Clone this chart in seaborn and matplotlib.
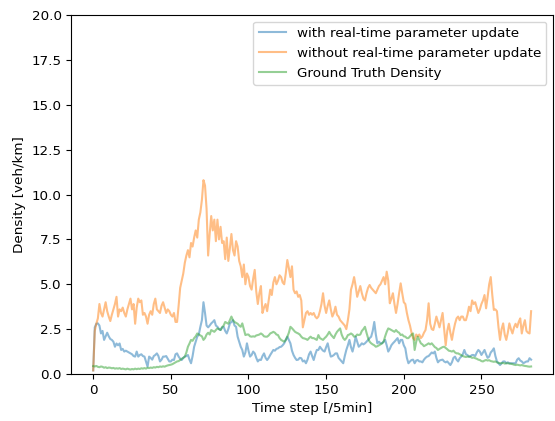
import numpy as np
import pandas as pd
import seaborn as sns
import matplotlib
matplotlib.use("Agg")
import matplotlib.pyplot as plt

plt.rcParams["font.size"] = 9.7

# density, one value per 5-min step (t = 0..282)
without_update = [
    0.2, 2.4, 2.8, 3.1, 3.9, 3.4, 3.2, 3.6, 4.0, 3.5,
    3.2, 2.95, 3.3, 3.6, 3.9, 4.3, 3.2, 3.6, 3.5, 3.7,
    3.4, 3.2, 3.6, 3.9, 4.2, 3.6, 3.9, 2.8, 3.7, 4.2,
    4.0, 4.1, 3.3, 3.4, 3.2, 2.8, 3.3, 3.5, 3.3, 3.9,
    4.2, 3.6, 3.5, 3.4, 3.8, 4.0, 3.7, 3.4, 3.6, 3.5,
    3.3, 3.2, 3.4, 2.9, 2.9, 3.8, 4.8, 5.2, 5.6, 6.2,
    6.6, 6.9, 6.5, 7.3, 7.1, 7.6, 8.0, 7.6, 8.6, 9.0,
    9.7, 10.8, 10.5, 9.2, 6.6, 7.8, 8.8, 8.0, 8.6, 7.4,
    8.6, 7.5, 8.2, 7.3, 7.4, 6.4, 7.6, 6.3, 7.0, 7.8,
    6.9, 6.6, 7.4, 7.1, 6.3, 6.0, 5.4, 6.1, 5.0, 5.6,
    5.4, 4.9, 4.7, 5.3, 5.8, 4.6, 3.9, 4.5, 4.9, 3.4,
    3.7, 3.9, 3.5, 4.1, 4.7, 4.4, 5.1, 5.4, 5.0, 5.2,
    5.5, 5.4, 5.1, 5.0, 5.6, 6.35, 5.9, 5.4, 6.0, 4.7,
    4.5, 4.6, 4.3, 4.4, 4.1, 2.6, 3.0, 3.4, 3.5, 3.3,
    3.4, 3.3, 3.4, 3.2, 3.1, 3.2, 3.5, 3.9, 4.5, 3.8,
    3.4, 3.8, 4.1, 3.6, 3.2, 3.4, 3.75, 3.3, 3.2, 3.0,
    2.9, 2.8, 2.7, 2.5, 3.0, 3.6, 4.7, 5.0, 5.4, 4.9,
    4.3, 4.6, 4.9, 4.5, 4.2, 4.1, 4.5, 4.8, 4.96, 4.8,
    4.7, 4.6, 4.5, 4.7, 4.9, 5.0, 5.2, 5.4, 5.0, 5.7,
    5.2, 3.94, 4.2, 4.5, 3.9, 3.4, 3.9, 4.5, 5.05, 4.5,
    4.0, 3.9, 3.4, 3.0, 2.7, 2.3, 2.0, 1.9, 2.2, 2.1,
    2.2, 2.0, 2.1, 2.3, 2.45, 3.0, 3.94, 2.8, 2.5, 2.45,
    2.8, 3.2, 2.9, 2.6, 3.0, 3.4, 2.5, 1.6, 2.4, 2.8,
    2.3, 1.9, 2.4, 2.8, 3.1, 3.2, 3.0, 3.2, 3.2, 3.0,
    3.0, 3.3, 3.75, 3.5, 4.1, 3.9, 4.0, 3.7, 3.4, 3.6,
    3.9, 4.1, 4.4, 3.66, 4.3, 5.0, 5.4, 4.4, 3.57, 3.6,
    3.5, 2.6, 1.9, 2.5, 2.82, 2.2, 1.9, 2.3, 2.82, 2.5,
    2.26, 2.6, 2.8, 2.6, 2.9, 3.1, 2.26, 2.7, 3.0, 2.4,
    2.3, 2.26, 3.5,
]

with_update = [
    0.2, 2.6, 2.8, 2.82, 2.7, 2.26, 2.4, 1.9, 2.1, 2.3,
    2.1, 1.95, 1.9, 1.8, 1.52, 1.7, 1.6, 1.7, 1.34, 1.4,
    1.25, 1.3, 1.25, 1.2, 1.15, 1.1, 1.0, 0.97, 1.25, 0.97,
    1.06, 1.1, 1.0, 0.97, 0.7, 0.41, 0.97, 0.9, 0.8, 1.0,
    1.06, 1.15, 1.0, 0.7, 0.8, 0.97, 0.97, 1.0, 0.85, 0.7,
    0.7, 0.8, 0.78, 1.1, 1.15, 0.97, 0.85, 0.78, 0.9, 0.97,
    1.0, 1.06, 0.8, 0.6, 1.0, 1.52, 1.8, 2.08, 2.2, 2.63,
    3.0, 4.0, 3.4, 2.7, 2.6, 2.7, 2.82, 2.9, 3.0, 2.7,
    2.63, 2.5, 2.45, 2.6, 2.63, 2.4, 2.26, 2.5, 2.82, 2.9,
    3.0, 2.7, 2.63, 2.08, 1.8, 1.52, 1.34, 0.97, 1.2, 1.71,
    1.3, 0.97, 1.06, 1.25, 1.15, 0.9, 0.7, 0.8, 0.78, 1.0,
    1.15, 0.9, 0.78, 0.9, 1.06, 1.2, 1.34, 1.3, 1.4, 1.43,
    1.5, 1.52, 1.6, 1.71, 1.9, 2.08, 1.9, 1.71, 1.3, 1.06,
    0.9, 0.78, 0.8, 0.9, 0.88, 0.7, 0.75, 0.6, 0.8, 1.1,
    1.25, 1.0, 0.78, 1.1, 1.34, 1.34, 1.52, 1.4, 1.3, 1.25,
    1.5, 1.71, 1.3, 0.97, 1.0, 1.06, 1.15, 1.15, 0.9, 0.8,
    0.7, 0.6, 1.0, 1.34, 1.6, 1.9, 1.5, 1.25, 1.6, 2.08,
    1.8, 1.52, 1.6, 1.71, 1.65, 1.71, 1.8, 1.9, 2.0, 2.08,
    2.4, 2.9, 2.2, 1.71, 1.8, 1.71, 1.71, 1.8, 1.9, 1.6,
    1.25, 1.4, 1.6, 1.71, 1.8, 1.9, 2.0, 1.71, 1.9, 1.9,
    1.6, 1.43, 0.9, 0.6, 0.7, 0.78, 0.8, 0.6, 0.75, 0.78,
    0.7, 0.7, 0.65, 0.8, 0.9, 0.97, 1.0, 1.1, 1.2, 1.15,
    1.25, 0.9, 0.65, 0.75, 0.78, 0.8, 0.7, 0.65, 0.7, 0.6,
    0.5, 0.65, 0.9, 0.97, 0.8, 0.7, 0.88, 0.97, 1.1, 1.34,
    1.1, 1.06, 0.97, 1.0, 1.06, 1.06, 1.0, 1.2, 1.34, 1.25,
    1.06, 1.2, 1.34, 1.1, 0.9, 0.97, 1.2, 1.3, 1.43, 1.0,
    0.7, 0.6, 0.5, 0.6, 0.7, 0.7, 0.6, 0.65, 0.6, 0.6,
    0.6, 0.6, 0.6, 0.8, 0.88, 0.75, 0.7, 0.6, 0.65, 0.7,
    0.7, 0.88, 0.8,
]

ground_truth = [
    0.44, 0.42, 0.45, 0.4, 0.38, 0.42, 0.4, 0.35, 0.38, 0.33,
    0.36, 0.35, 0.32, 0.34, 0.3, 0.32, 0.3, 0.33, 0.28, 0.3,
    0.28, 0.26, 0.3, 0.27, 0.25, 0.28, 0.26, 0.3, 0.27, 0.3,
    0.28, 0.32, 0.3, 0.33, 0.3, 0.35, 0.33, 0.36, 0.34, 0.38,
    0.36, 0.4, 0.38, 0.42, 0.4, 0.43, 0.41, 0.45, 0.48, 0.5,
    0.52, 0.55, 0.6, 0.65, 0.7, 0.72, 0.78, 0.85, 0.9, 0.97,
    1.2, 1.52, 1.7, 1.9, 1.85, 2.0, 2.1, 2.26, 2.2, 2.15,
    2.1, 1.9, 2.0, 2.2, 2.3, 2.2, 2.45, 2.4, 2.35, 2.45,
    2.54, 2.5, 2.45, 2.6, 2.7, 2.9, 2.85, 2.8, 3.0, 3.2,
    3.0, 2.9, 2.85, 2.8, 2.7, 2.63, 2.82, 2.5, 2.17, 2.2,
    2.2, 2.1, 2.08, 2.1, 2.08, 2.15, 2.17, 2.2, 2.26, 2.2,
    2.1, 2.08, 2.08, 2.15, 2.26, 2.3, 2.35, 2.3, 2.2, 2.17,
    2.0, 1.9, 1.85, 1.8, 1.9, 2.08, 2.3, 2.63, 2.55, 2.45,
    2.35, 2.3, 2.26, 2.2, 2.08, 2.0, 1.98, 1.95, 1.9, 2.0,
    2.08, 2.0, 2.0, 1.95, 1.9, 2.17, 2.0, 1.95, 1.9, 2.0,
    2.08, 2.2, 2.35, 2.2, 2.1, 2.0, 2.2, 2.35, 2.45, 2.54,
    2.2, 2.0, 1.9, 2.0, 2.17, 2.2, 2.26, 2.2, 2.08, 2.1,
    2.2, 2.17, 2.2, 2.4, 2.5, 2.63, 2.3, 2.0, 1.8, 1.71,
    1.65, 1.6, 1.52, 1.55, 1.6, 1.65, 1.71, 1.8, 2.1, 2.35,
    2.54, 2.5, 2.45, 2.4, 2.35, 2.45, 2.35, 2.3, 2.17, 2.2,
    2.1, 2.08, 2.0, 2.0, 2.1, 2.2, 2.26, 1.34, 1.8, 2.08,
    1.9, 1.71, 1.65, 1.55, 1.6, 1.65, 1.71, 1.65, 1.71, 1.6,
    1.5, 1.45, 1.34, 1.4, 1.45, 1.5, 1.52, 1.45, 1.38, 1.3,
    1.28, 1.25, 1.3, 1.2, 1.15, 1.15, 1.1, 1.05, 1.0, 0.97,
    0.95, 0.97, 0.97, 0.95, 0.9, 0.92, 0.88, 0.85, 0.8, 0.78,
    0.72, 0.7, 0.75, 0.78, 0.75, 0.77, 0.72, 0.7, 0.68, 0.7,
    0.65, 0.62, 0.6, 0.6, 0.62, 0.58, 0.6, 0.6, 0.58, 0.57,
    0.55, 0.52, 0.5, 0.52, 0.5, 0.48, 0.5, 0.47, 0.45, 0.44,
    0.42, 0.41, 0.42,
]

steps = np.arange(len(without_update))

fig = plt.figure(figsize=(5.55, 4.21), dpi=100)
ax = fig.add_axes([0.1285, 0.1116, 0.8679, 0.8528])

sns.lineplot(x=steps, y=with_update, ax=ax, color="tab:blue", alpha=0.5,
             label="with real-time parameter update")
sns.lineplot(x=steps, y=without_update, ax=ax, color="tab:orange", alpha=0.5,
             label="without real-time parameter update")
sns.lineplot(x=steps, y=ground_truth, ax=ax, color="tab:green", alpha=0.5,
             label="Ground Truth Density")

ax.set_ylim(0, 20)
ax.set_xlabel("Time step [/5min]")
ax.set_ylabel("Density [veh/km]")
ax.legend(loc="upper right")

fig.savefig("out.png", dpi=100)
